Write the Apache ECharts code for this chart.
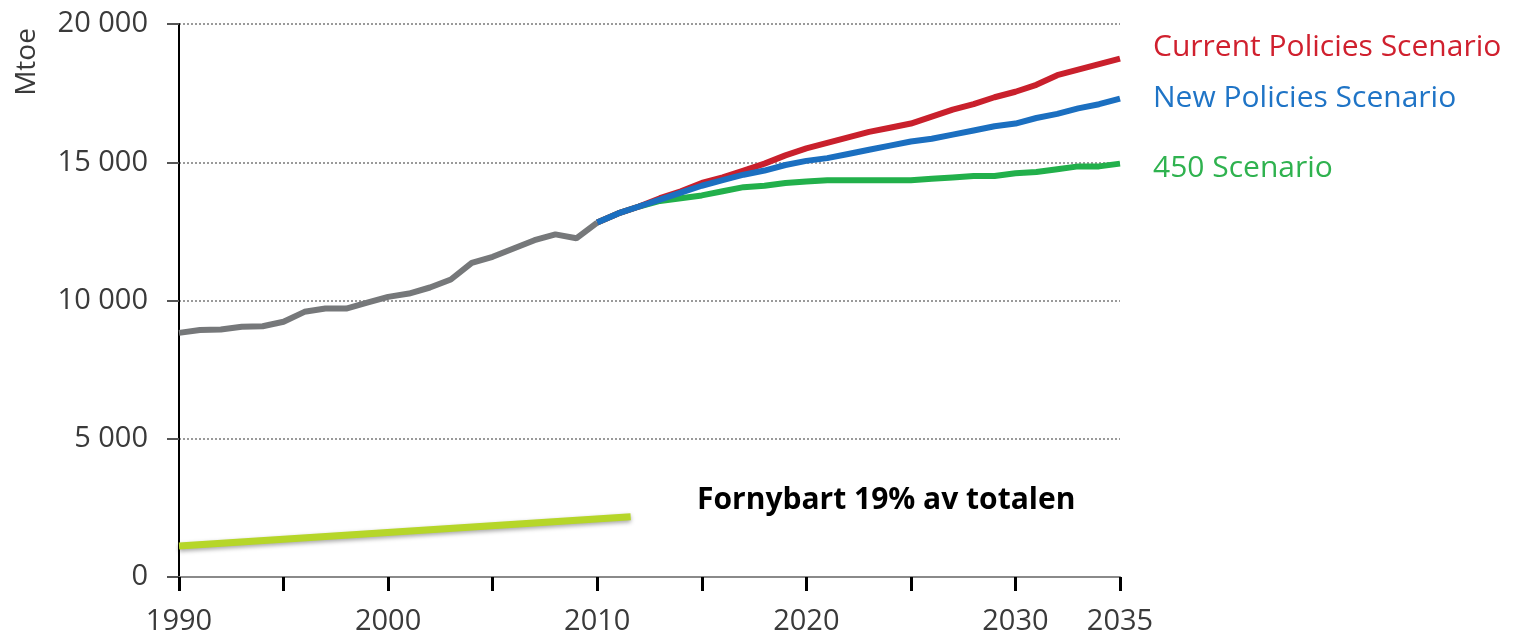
<!DOCTYPE html>
<html>
<head>
<meta charset="utf-8">
<script src="https://cdn.jsdelivr.net/npm/echarts@6/dist/echarts.min.js"></script>
<style>
  html, body { margin: 0; padding: 0; background: #fff; }
  #main { width: 1515px; height: 634px; }
</style>
</head>
<body>
<div id="main"></div>
<script>
// historical demand 1990-2010 (Mtoe)
var histYears = [1990,1991,1992,1993,1994,1995,1996,1997,1998,1999,2000,2001,2002,2003,2004,2005,2006,2007,2008,2009,2010];
var histValues = [8830,8930,8950,9050,9070,9230,9590,9710,9710,9920,10130,10250,10470,10760,11360,11580,11880,12180,12390,12250,12820];

// scenarios 2010-2035
var scenYears = [2010,2011,2012,2013,2014,2015,2016,2017,2018,2019,2020,2021,2022,2023,2024,2025,2026,2027,2028,2029,2030,2031,2032,2033,2034,2035];
var currentPolicies = [12820,13150,13400,13700,13950,14250,14450,14700,14950,15250,15500,15700,15900,16100,16250,16400,16650,16900,17100,17350,17550,17800,18150,18350,18550,18750];
var newPolicies = [12820,13150,13400,13650,13900,14150,14350,14550,14700,14900,15050,15150,15300,15450,15600,15750,15850,16000,16150,16300,16400,16600,16750,16950,17100,17300];
var scen450 = [12820,13150,13400,13600,13700,13800,13950,14100,14150,14250,14300,14350,14350,14350,14350,14350,14400,14450,14500,14500,14600,14650,14750,14850,14850,14950];

// renewables line (annotation)
var renewYears = [1990, 2011.6];
var renewValues = [1120, 2180];

var xLabelYears = [1990, 2000, 2010, 2020, 2030, 2035];

function pairs(xs, ys) {
    var out = [];
    for (var i = 0; i < xs.length; i++) out.push([xs[i], ys[i]]);
    return out;
}

var myChart = echarts.init(document.getElementById('main'));
var option = {
    animation: false,
    grid: { left: 179, right: 395, top: 24, bottom: 57, outerBoundsMode: 'none' },
    xAxis: {
        type: 'value',
        min: 1990,
        max: 2035,
        interval: 5,
        axisLine: { show: true, lineStyle: { color: '#8a8a8a', width: 2 } },
        axisTick: { show: true, inside: false, length: 14, lineStyle: { color: '#000', width: 3 } },
        axisLabel: {
            margin: 30,
            fontFamily: 'Open Sans',
            fontSize: 29,
            color: '#3a3a3a',
            formatter: function (v) {
                return xLabelYears.indexOf(v) >= 0 ? String(v) : '';
            }
        },
        splitLine: { show: false }
    },
    yAxis: {
        type: 'value',
        min: 0,
        max: 20000,
        interval: 5000,
        axisLine: { show: true, lineStyle: { color: '#000', width: 2 } },
        axisTick: { show: true, length: 12, lineStyle: { color: '#555', width: 2 } },
        axisLabel: {
            margin: 31,
            fontFamily: 'Open Sans',
            fontSize: 29,
            color: '#3a3a3a',
            formatter: function (v) {
                return String(v).replace(/\B(?=(\d{3})+(?!\d))/g, ' ');
            }
        },
        splitLine: { show: true, lineStyle: { color: '#9a9a9a', type: [2, 2], width: 2 } }
    },
    graphic: [
        { type: 'text', x: 27, y: 62, rotation: Math.PI / 2,
          style: { text: 'Mtoe', font: '28px "Open Sans"', fill: '#3a3a3a', align: 'center', verticalAlign: 'middle' } },
        { type: 'text', x: 1153, y: 47,
          style: { text: 'Current Policies Scenario', font: '30px "Open Sans"', fill: '#d0202e', verticalAlign: 'middle' } },
        { type: 'text', x: 1153, y: 98,
          style: { text: 'New Policies Scenario', font: '30px "Open Sans"', fill: '#1f74c6', verticalAlign: 'middle' } },
        { type: 'text', x: 1153, y: 168,
          style: { text: '450 Scenario', font: '30px "Open Sans"', fill: '#2fb24f', verticalAlign: 'middle' } },
        { type: 'text', x: 697, y: 500,
          style: { text: 'Fornybart 19% av totalen', font: 'bold 30px "Open Sans"', fill: '#000', verticalAlign: 'middle' } }
    ],
    series: [
        {
            name: 'Historical', type: 'line', data: pairs(histYears, histValues),
            symbol: 'none', lineStyle: { color: '#76787a', width: 6 }, z: 3
        },
        {
            name: '450 Scenario', type: 'line', data: pairs(scenYears, scen450),
            symbol: 'none', lineStyle: { color: '#22b04b', width: 6 }, z: 4
        },
        {
            name: 'Current Policies Scenario', type: 'line', data: pairs(scenYears, currentPolicies),
            symbol: 'none', lineStyle: { color: '#c9202c', width: 6 }, z: 5
        },
        {
            name: 'New Policies Scenario', type: 'line', data: pairs(scenYears, newPolicies),
            symbol: 'none', lineStyle: { color: '#1b6fc0', width: 6 }, z: 6
        },
        {
            name: 'Fornybart', type: 'line', data: pairs(renewYears, renewValues),
            symbol: 'none',
            lineStyle: { color: '#b6d629', width: 7, shadowColor: 'rgba(0,0,0,0.35)', shadowBlur: 4, shadowOffsetY: 2 },
            z: 3
        }
    ]
};
myChart.setOption(option);
</script>
</body>
</html>
